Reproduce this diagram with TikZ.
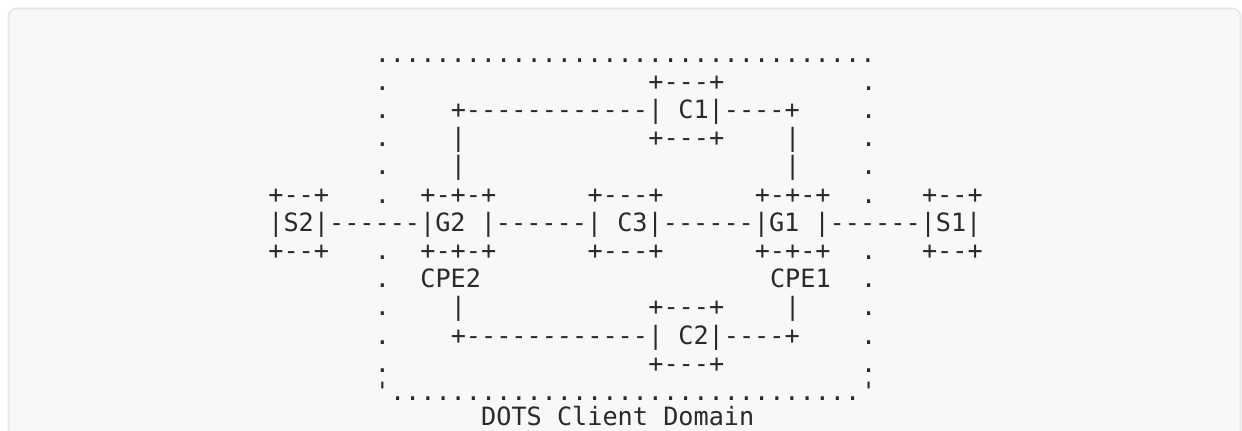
\documentclass[tikz,border=0pt]{standalone}
\usepackage{fontspec}
\setmonofont{DejaVu Sans Mono}
\definecolor{bgc}{HTML}{F8F8F8}
\definecolor{bordc}{HTML}{E6E6E6}
\definecolor{ink}{HTML}{2A2A2A}
\tikzset{
  txt/.style={anchor=base west, inner sep=0pt, outer sep=0pt, text=ink,
    font=\ttfamily\fontsize{18.9}{22}\selectfont}
}
\newcommand\seg[4]{\node[txt] (#1) at ({268.4+15.2*#3},{62+28.2*(#2-1)}) {#4};}
\begin{document}
\begin{tikzpicture}[x=0.75pt,y=-0.75pt]
\useasboundingbox (0,0) rectangle (1242,430);
\fill[white] (0,0) rectangle (1242,430);
\draw[fill=bgc, draw=bordc, line width=1.2pt, rounded corners=6] (8.5,8.5) rectangle (1240.5,470);
% row 1
\seg{ra}{1}{7}{.................................}
% row 2
\seg{rba}{2}{7}{.}
\seg{rbb}{2}{25}{+---+}
\seg{rbc}{2}{39}{.}
% row 3
\seg{rca}{3}{7}{.}
\seg{rcb}{3}{12}{+------------| C1|----+}
\seg{rcc}{3}{39}{.}
% row 4
\seg{rda}{4}{7}{.}
\seg{rdb}{4}{12}{|}
\seg{rdc}{4}{25}{+---+}
\seg{rdd}{4}{34}{|}
\seg{rde}{4}{39}{.}
% row 5
\seg{rea}{5}{7}{.}
\seg{reb}{5}{12}{|}
\seg{rec}{5}{34}{|}
\seg{red}{5}{39}{.}
% row 6
\seg{rfa}{6}{0}{+--+}
\seg{rfb}{6}{7}{.}
\seg{rfc}{6}{10}{+-+-+}
\seg{rfd}{6}{21}{+---+}
\seg{rfe}{6}{32}{+-+-+}
\seg{rff}{6}{39}{.}
\seg{rfg}{6}{43}{+--+}
% row 7
\seg{rg}{7}{0}{|S2|------|G2 |------| C3|------|G1 |------|S1|}
% row 8
\seg{rha}{8}{0}{+--+}
\seg{rhb}{8}{7}{.}
\seg{rhc}{8}{10}{+-+-+}
\seg{rhd}{8}{21}{+---+}
\seg{rhe}{8}{32}{+-+-+}
\seg{rhf}{8}{39}{.}
\seg{rhg}{8}{43}{+--+}
% row 9
\seg{ria}{9}{7}{.}
\seg{rib}{9}{10}{CPE2}
\seg{ric}{9}{33}{CPE1}
\seg{rid}{9}{39}{.}
% row 10
\seg{rja}{10}{7}{.}
\seg{rjb}{10}{12}{|}
\seg{rjc}{10}{25}{+---+}
\seg{rjd}{10}{34}{|}
\seg{rje}{10}{39}{.}
% row 11
\seg{rka}{11}{7}{.}
\seg{rkb}{11}{12}{+------------| C2|----+}
\seg{rkc}{11}{39}{.}
% row 12
\seg{rla}{12}{7}{.}
\seg{rlb}{12}{25}{+---+}
\seg{rlc}{12}{39}{.}
% row 13
\seg{rma}{13}{7}{'}
\seg{rmb}{13}{8}{...............................}
\seg{rmc}{13}{39}{'}
% row 14 (caption, lifted slightly so it stays inside the page)
\node[txt] (rn) at ({268.4+15.2*14},{425}) {DOTS Client Domain};
\end{tikzpicture}
\end{document}
